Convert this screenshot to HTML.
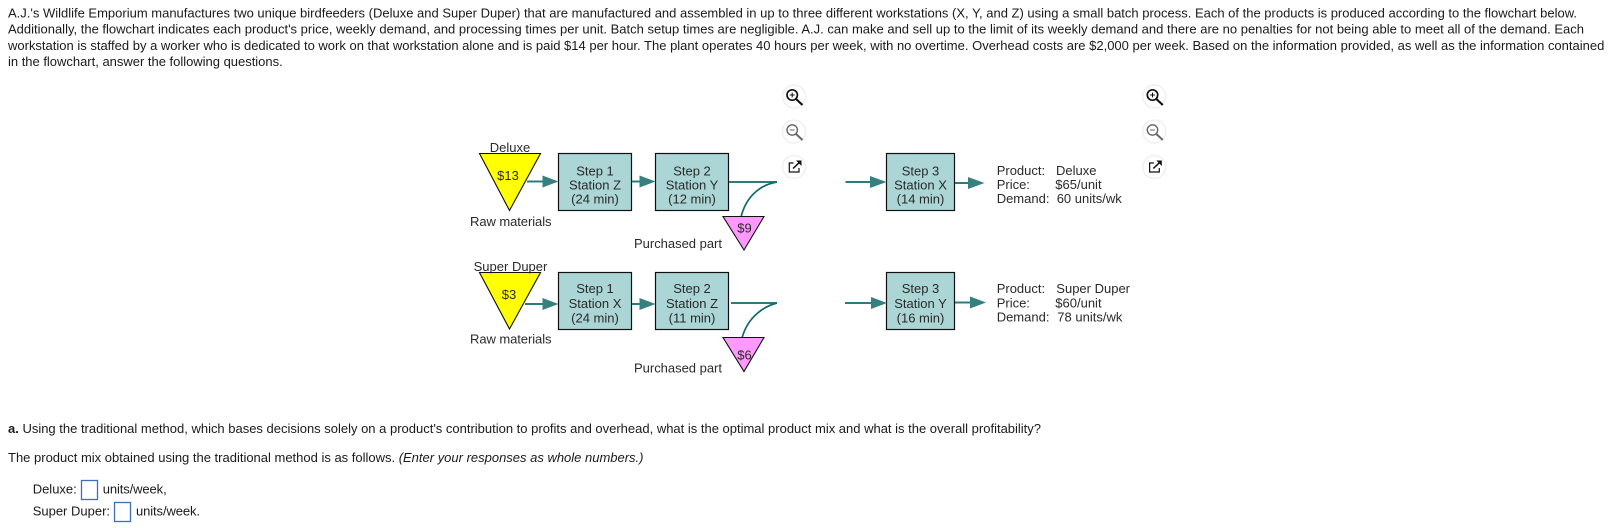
<!DOCTYPE html>
<html><head><meta charset="utf-8"><style>
html,body{margin:0;padding:0;background:#fff;width:1620px;height:528px;overflow:hidden}
svg{display:block}
text{font-family:"Liberation Sans",Arial,sans-serif;font-size:13px}
.m{fill:#1a1a1a}
.d{fill:#2a2a2a}
.c{text-anchor:middle}
.box{fill:#acd6d6;stroke:#111;stroke-width:1.2}
.ln{stroke:#2b7d7d;stroke-width:2;fill:none}
.hd{fill:#36807f}
.cv{stroke:#0f6a6a;stroke-width:1.7;fill:none}
.tri{stroke:#111;stroke-width:1.1}
.inp{fill:#fff;stroke:#3a6fc4;stroke-width:1.3}
.halo{fill:#fff;stroke:#f0f0f0;stroke-width:1.5}
</style></head><body>
<svg width="1620" height="528" viewBox="0 0 1620 528" xmlns="http://www.w3.org/2000/svg">
<defs>
<g id="icons">
<circle cx="0" cy="96.5" r="11.5" class="halo"/>
<circle cx="-1.8" cy="95" r="5.2" fill="none" stroke="#111" stroke-width="1.7"/><path d="M2,99 L8.5,105" stroke="#111" stroke-width="2.2"/><path d="M-4.2,95 H0.6 M-1.8,92.6 V97.4" stroke="#111" stroke-width="1"/>
<circle cx="0" cy="131.5" r="11.5" class="halo"/>
<circle cx="-1.8" cy="130" r="5.2" fill="none" stroke="#666" stroke-width="1.4"/><path d="M2,134 L8.5,140" stroke="#666" stroke-width="1.9"/><path d="M-4.2,130 H0.6" stroke="#666" stroke-width="1"/>
<circle cx="0" cy="167" r="11.5" class="halo"/>
<path d="M-0.5,163 H-4.7 V172 H5 V168" fill="none" stroke="#111" stroke-width="1.2"/><path d="M-1,168.5 L5,162.8" stroke="#111" stroke-width="1.5"/><path d="M2,160.5 H7.5 V166 Z" fill="#111"/>
</g>
</defs>
<rect width="1620" height="528" fill="#fff"/>
<text class="m" x="8" y="17.7" textLength="1569">A.J.'s Wildlife Emporium manufactures two unique birdfeeders (Deluxe and Super Duper) that are manufactured and assembled in up to three different workstations (X, Y, and Z) using a small batch process. Each of the products is produced according to the flowchart below.</text>
<text class="m" x="8" y="33.7" textLength="1576">Additionally, the flowchart indicates each product's price, weekly demand, and processing times per unit. Batch setup times are negligible. A.J. can make and sell up to the limit of its weekly demand and there are no penalties for not being able to meet all of the demand. Each</text>
<text class="m" x="8" y="50" textLength="1596.3">workstation is staffed by a worker who is dedicated to work on that workstation alone and is paid $14 per hour. The plant operates 40 hours per week, with no overtime. Overhead costs are $2,000 per week. Based on the information provided, as well as the information contained</text>
<text class="m" x="8" y="66" textLength="274.7">in the flowchart, answer the following questions.</text>

<!-- Deluxe row -->
<polygon class="tri" fill="#ffff00" points="479.5,153.5 540.5,153.5 509.5,210.5"/>
<text class="d c" x="510" y="152">Deluxe</text>
<text class="d c" x="508" y="180">$13</text>
<text class="d" x="470" y="226" textLength="81.5">Raw materials</text>
<rect class="box" x="558.5" y="153.5" width="73" height="57"/>
<rect class="box" x="655.5" y="153.5" width="73" height="57"/>
<rect class="box" x="886.5" y="153.5" width="68" height="57"/>
<text class="d c" x="595" y="175.5">Step 1</text><text class="d c" x="595" y="189.5">Station Z</text><text class="d c" x="595" y="203.5">(24 min)</text>
<text class="d c" x="692" y="175.5">Step 2</text><text class="d c" x="692" y="189.5">Station Y</text><text class="d c" x="692" y="203.5">(12 min)</text>
<text class="d c" x="920.5" y="175.5">Step 3</text><text class="d c" x="920.5" y="189.5">Station X</text><text class="d c" x="920.5" y="203.5">(14 min)</text>
<line class="ln" x1="527" y1="181.5" x2="545" y2="181.5"/><polygon class="hd" points="542.5,175.5 558.5,181.5 542.5,187.5"/>
<line class="ln" x1="632" y1="181.5" x2="642" y2="181.5"/><polygon class="hd" points="639.5,175.5 655.5,181.5 639.5,187.5"/>
<path class="cv" d="M729,182 H777"/>
<path class="cv" d="M777,182 C764,184 747,193 741,217"/>
<line class="ln" x1="845.5" y1="182" x2="872" y2="182"/><polygon class="hd" points="870,176 886.5,182 870,188"/>
<line class="ln" x1="955" y1="183" x2="970" y2="183"/><polygon class="hd" points="968,177 984.5,183 968,189"/>
<polygon class="tri" fill="#ff99ff" points="723,216.5 764,216.5 744,250"/>
<text class="d c" x="744.5" y="232.5">$9</text>
<text class="d" x="634" y="248" textLength="88">Purchased part</text>
<text class="d" x="996.7" y="175">Product:</text><text class="d" x="1056" y="175">Deluxe</text>
<text class="d" x="996.7" y="189">Price:</text><text class="d" x="1055.3" y="189">$65/unit</text>
<text class="d" x="996.7" y="203">Demand:</text><text class="d" x="1056.7" y="203">60 units/wk</text>

<!-- Super Duper row -->
<polygon class="tri" fill="#ffff00" points="479.5,272.5 540.5,272.5 509.5,329"/>
<text class="d c" x="510.5" y="271">Super Duper</text>
<text class="d c" x="509" y="299">$3</text>
<text class="d" x="470" y="343.5" textLength="81.5">Raw materials</text>
<rect class="box" x="558.5" y="272.5" width="73" height="57"/>
<rect class="box" x="655.5" y="272.5" width="73" height="57"/>
<rect class="box" x="886.5" y="272.5" width="68" height="57"/>
<text class="d c" x="595" y="293">Step 1</text><text class="d c" x="595" y="308">Station X</text><text class="d c" x="595" y="322.3">(24 min)</text>
<text class="d c" x="692" y="293">Step 2</text><text class="d c" x="692" y="308">Station Z</text><text class="d c" x="692" y="322.3">(11 min)</text>
<text class="d c" x="920.5" y="293">Step 3</text><text class="d c" x="920.5" y="308">Station Y</text><text class="d c" x="920.5" y="322.3">(16 min)</text>
<line class="ln" x1="525" y1="304" x2="545" y2="304"/><polygon class="hd" points="542.5,298 558.5,304 542.5,310"/>
<line class="ln" x1="632" y1="304" x2="642" y2="304"/><polygon class="hd" points="639.5,298 655.5,304 639.5,310"/>
<path class="cv" d="M731,303 H777"/>
<path class="cv" d="M777,303 C765,306 748,316 742,338"/>
<line class="ln" x1="845" y1="303" x2="873" y2="303"/><polygon class="hd" points="871,297 887,303 871,309"/>
<line class="ln" x1="955" y1="302.5" x2="972" y2="302.5"/><polygon class="hd" points="970,296.5 986,302.5 970,308.5"/>
<polygon class="tri" fill="#ff99ff" points="723,337.5 764,337.5 744,371.5"/>
<text class="d c" x="744.5" y="359.5">$6</text>
<text class="d" x="634" y="372.5" textLength="88">Purchased part</text>
<text class="d" x="996.7" y="293">Product:</text><text class="d" x="1056.3" y="293">Super Duper</text>
<text class="d" x="996.7" y="307.5">Price:</text><text class="d" x="1055.3" y="307.5">$60/unit</text>
<text class="d" x="996.7" y="321.5">Demand:</text><text class="d" x="1057.3" y="321.5">78 units/wk</text>

<use href="#icons" transform="translate(794,0)"/>
<use href="#icons" transform="translate(1154.3,0)"/>

<!-- question -->
<text class="m" x="8" y="433" textLength="1033"><tspan font-weight="bold">a.</tspan> Using the traditional method, which bases decisions solely on a product's contribution to profits and overhead, what is the optimal product mix and what is the overall profitability?</text>
<text class="m" x="8" y="462" textLength="635.5">The product mix obtained using the traditional method is as follows. <tspan font-style="italic">(Enter your responses as whole numbers.)</tspan></text>
<text class="m" x="32.7" y="493.5">Deluxe:</text>
<rect class="inp" x="81.5" y="480.5" width="16" height="19"/>
<text class="m" x="102.7" y="493.5" textLength="64">units/week,</text>
<text class="m" x="32.7" y="515.7">Super Duper:</text>
<rect class="inp" x="114.5" y="502.5" width="16" height="19"/>
<text class="m" x="136" y="515.7" textLength="64">units/week.</text>
</svg>
</body></html>
